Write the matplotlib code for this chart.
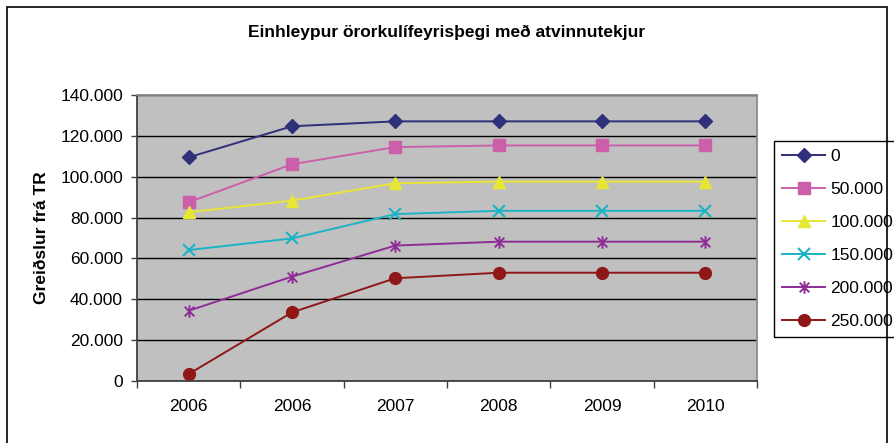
import numpy as np
import matplotlib.pyplot as plt
from matplotlib.path import Path
from matplotlib.patches import Rectangle

plt.rcParams['font.family'] = ['Liberation Sans', 'DejaVu Sans']

# --- data ---
years = ['2006', '2006', '2007', '2008', '2009', '2010']
series_names = ['0', '50.000', '100.000', '150.000', '200.000', '250.000']
s_0 = [109500, 124700, 127100, 127100, 127100, 127100]
s_50 = [87500, 106100, 114500, 115300, 115300, 115300]
s_100 = [82600, 88300, 96800, 97600, 97600, 97600]
s_150 = [64100, 69800, 81700, 83300, 83300, 83300]
s_200 = [34400, 51100, 66300, 68200, 68200, 68200]
s_250 = [3400, 33600, 50300, 53000, 53000, 53000]
yticks = [0, 20000, 40000, 60000, 80000, 100000, 120000, 140000]

# Excel style "star": an x with a vertical bar through it
star = Path([(-1, -1), (1, 1), (-1, 1), (1, -1), (0, -1.3), (0, 1.3)],
            [Path.MOVETO, Path.LINETO, Path.MOVETO, Path.LINETO,
             Path.MOVETO, Path.LINETO])

styles = [
    dict(color='#2f2f7a', marker='D', ms=7),
    dict(color='#cc5faa', marker='s', ms=8.5),
    dict(color='#e8e634', marker='^', ms=9),
    dict(color='#1ab4c6', marker='x', ms=8, mew=1.5),
    dict(color='#8e2d96', marker=star, ms=9, mew=1.4),
    dict(color='#8e1717', marker='o', ms=8.5),
]
data = [s_0, s_50, s_100, s_150, s_200, s_250]

fig = plt.figure(figsize=(8.94, 4.43), dpi=100)
ax = fig.add_axes([137 / 894, 1 - 381 / 443, 620 / 894, 286 / 443])
ax.set_facecolor('#c0c0c0')

x = np.arange(len(years))
for name, vals, st in zip(series_names, data, styles):
    ax.plot(x, vals, label=name, lw=1.4, color=st['color'],
            marker=st['marker'], ms=st['ms'], mfc=st['color'],
            mec=st['color'], mew=st.get('mew', 1))

ax.set_xlim(-0.5, 5.5)
ax.set_ylim(0, 140000)
ax.set_yticks(yticks)
ax.set_yticklabels(['0' if v == 0 else f'{v // 1000}.000' for v in yticks])
ax.set_xticks(x)
ax.set_xticklabels(years)
ax.set_xticks(np.arange(-0.5, 6, 1), minor=True)
ax.tick_params(axis='x', which='major', length=0, pad=13, labelsize=12.5)
ax.tick_params(axis='x', which='minor', length=5, width=1, color='#404040')
ax.tick_params(axis='y', length=4, width=1, pad=6, labelsize=12.5, color='#404040')
ax.yaxis.grid(True, color='black', lw=1)
ax.set_axisbelow(True)

for side in ['top', 'right']:
    ax.spines[side].set_color('#8c8c8c')
    ax.spines[side].set_linewidth(1.3)
for side in ['left', 'bottom']:
    ax.spines[side].set_color('#404040')
    ax.spines[side].set_linewidth(1.3)

ax.set_ylabel('Greiðslur frá TR', fontsize=12.5, fontweight='bold', labelpad=8)
fig.text(0.5, 1 - 32 / 443, 'Einhleypur örorkulífeyrisþegi með atvinnutekjur',
         ha='center', va='center', fontsize=12.5, fontweight='bold')

leg = ax.legend(loc='upper left', bbox_to_anchor=(774 / 894, 1 - 141 / 443),
                bbox_transform=fig.transFigure, borderaxespad=0, fontsize=12.5,
                fancybox=False, edgecolor='black', framealpha=1,
                handlelength=2.5, handletextpad=0.3, labelspacing=1.03,
                borderpad=0.45)
leg.get_frame().set_linewidth(1)

# chart border
fig.patches.append(Rectangle((7 / 894, -0.05), 880 / 894, 1.05 - 7 / 443,
                             transform=fig.transFigure, fill=False,
                             edgecolor='black', lw=1.2))

fig.savefig('out.png', dpi=100)
